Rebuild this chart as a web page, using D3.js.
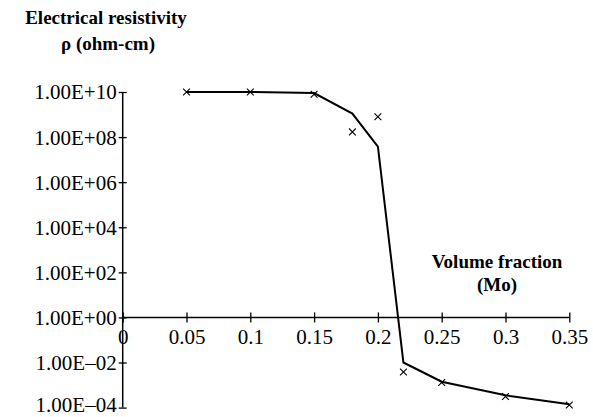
<!DOCTYPE html>
<html>
<head>
<meta charset="utf-8">
<script src="https://cdn.jsdelivr.net/npm/d3@7"></script>
<style>
  body { margin: 0; background: #fff; }
  text { font-family: "Liberation Serif", "Times New Roman", serif; fill: #000; }
</style>
</head>
<body>
<svg id="chart" width="593" height="417"></svg>
<script>
// measured points (x markers)
const markerX = [0.05, 0.1, 0.15, 0.18, 0.2, 0.22, 0.25, 0.3, 0.35]
const markerRho = [1e10, 1e10, 8e9, 1.7e8, 8e8, 3.8e-3, 1.3e-3, 3.1e-4, 1.3e-4]

// fitted curve
const fitX = [0.05, 0.1, 0.15, 0.18, 0.2, 0.22, 0.25, 0.3, 0.35]
const fitRho = [1e10, 1e10, 9e9, 1.1e9, 3.8e7, 1e-2, 1.4e-3, 3.5e-4, 1.4e-4]

const xTicks = [0, 0.05, 0.1, 0.15, 0.2, 0.25, 0.3, 0.35]
const yTicks = [1e10, 1e8, 1e6, 1e4, 1e2, 1, 1e-2, 1e-4]

const svg = d3.select('#chart')

let x = d3.scaleLinear().domain([0, 0.35]).range([122.7, 569.3])
let y = d3.scaleLog().domain([1e-4, 1e10]).range([407.6, 92])

let fmt = function(v) {
	let e = Math.round(Math.log10(v))
	let s = String(Math.abs(e)).padStart(2, '0')
	return '1.00E' + (e < 0 ? '\u2013' : '+') + s
}

// y axis
let yAxis = svg.append('g')
	.attr('transform', `translate(${x(0)},0)`)
	.call(d3.axisLeft(y).tickValues(yTicks).tickFormat(fmt).tickSize(4).tickPadding(2))
yAxis.select('.domain').attr('d', `M0,${y(1e-4)}V${y(1e10)}`).attr('stroke-width', 1.5)
yAxis.selectAll('.tick line').attr('x1', -4).attr('x2', 4).attr('stroke-width', 1.3)
yAxis.selectAll('.tick text')
	.style('font-family', '"Liberation Serif", serif')
	.style('font-size', '21px')
	.attr('dy', d => d == 1e-4 ? '0.2em' : '0.33em')

// x axis at rho = 1
let xAxis = svg.append('g')
	.attr('transform', `translate(0,${y(1)})`)
	.call(d3.axisBottom(x).tickValues(xTicks).tickFormat(d => String(d)).tickSize(5).tickPadding(7))
xAxis.select('.domain').attr('d', `M${x(0)},0H${x(0.35)}`).attr('stroke-width', 1.5)
xAxis.selectAll('.tick line').attr('y1', -5).attr('y2', 5).attr('stroke-width', 1.3)
xAxis.selectAll('.tick text')
	.style('font-family', '"Liberation Serif", serif')
	.style('font-size', '21px')

// fitted curve
let fit = fitX.map((v, i) => [v, fitRho[i]])
svg.append('path')
	.datum(fit)
	.attr('d', d3.line().x(d => x(d[0])).y(d => y(d[1])))
	.attr('fill', 'none')
	.attr('stroke', '#000')
	.attr('stroke-width', 2)

// markers
let pts = markerX.map((v, i) => [v, markerRho[i]])
let m = 3.4
svg.append('g').selectAll('path')
	.data(pts)
	.join('path')
	.attr('d', d => {
		let cx = x(d[0]), cy = y(d[1])
		return `M${cx-m},${cy-m}L${cx+m},${cy+m}M${cx-m},${cy+m}L${cx+m},${cy-m}`
	})
	.attr('stroke', '#000')
	.attr('stroke-width', 1.1)

// axis titles
svg.append('text').attr('x', 106).attr('y', 24)
	.attr('text-anchor', 'middle')
	.style('font-size', '19px').style('font-weight', 'bold')
	.text('Electrical resistivity')
svg.append('text').attr('x', 108).attr('y', 50)
	.attr('text-anchor', 'middle')
	.style('font-size', '19px').style('font-weight', 'bold')
	.text('\u03c1 (ohm-cm)')
svg.append('text').attr('x', 497).attr('y', 268)
	.attr('text-anchor', 'middle')
	.style('font-size', '19px').style('font-weight', 'bold')
	.text('Volume fraction')
svg.append('text').attr('x', 497).attr('y', 291)
	.attr('text-anchor', 'middle')
	.style('font-size', '19px').style('font-weight', 'bold')
	.text('(Mo)')
</script>
</body>
</html>
